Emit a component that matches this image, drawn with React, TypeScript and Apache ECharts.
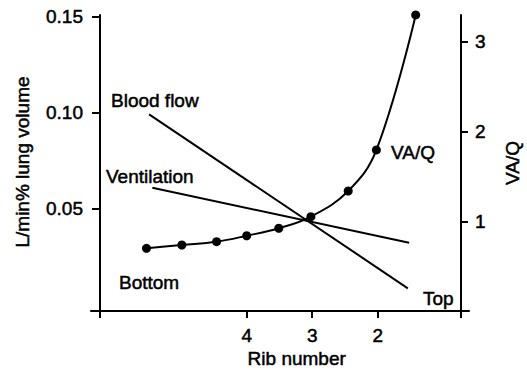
import React, { useEffect, useRef } from "react";
import * as echarts from "echarts";

// Data
const ribTicks = [4, 3, 2];
const leftTicks = [0.05, 0.1, 0.15];
const rightTicks = [1, 2, 3];

const bloodFlowRib = [5.49, 1.54];
const bloodFlowValue = [0.0993, 0.0087];

const ventilationRib = [5.44, 1.52];
const ventilationValue = [0.0611, 0.0324];

const vaqRib = [5.53, 4.99, 4.46, 4.0, 3.51, 3.02, 2.45, 2.02, 1.42];
const vaqValue = [0.704, 0.741, 0.778, 0.844, 0.927, 1.056, 1.341, 1.797, 3.297];

const FONT = "'Liberation Sans', Arial, Helvetica, sans-serif";
const FS = 19;
const BORDER = 0.5;

export default function App() {
  const ref = useRef<HTMLDivElement>(null);

  useEffect(() => {
    if (!ref.current) return;
    const chart = echarts.init(ref.current, null, { renderer: "svg" });

    const pair = (xs: number[], ys: number[]) => xs.map((x, i) => [x, ys[i]]);
    const txt = (text: string, x: number, y: number, align = "left", rotation = 0) => ({
      type: "text",
      x,
      y,
      rotation,
      style: {
        text,
        fill: "#000",
        stroke: "#000",
        lineWidth: BORDER,
        font: `${FS}px ${FONT}`,
        textAlign: align,
        textVerticalAlign: "middle",
      },
    });
    const labelStyle = {
      color: "#000",
      fontSize: FS,
      fontFamily: FONT,
      textBorderColor: "#000",
      textBorderWidth: BORDER,
    };

    chart.setOption({
      animation: false,
      backgroundColor: "#fff",
      grid: { left: 91, right: 58, top: 15, bottom: 67, containLabel: false },
      xAxis: {
        type: "value",
        min: 0.606,
        max: 6.377,
        inverse: true,
        axisLine: { onZero: false, lineStyle: { color: "#000", width: 2 } },
        axisTick: {
          show: true,
          length: 7,
          customValues: [6.24, ...ribTicks, 0.728],
          lineStyle: { color: "#000", width: 2 },
        },
        axisLabel: { customValues: ribTicks, margin: 14.5, ...labelStyle },
        splitLine: { show: false },
      },
      yAxis: [
        {
          type: "value",
          position: "left",
          offset: -9,
          min: -0.003125,
          max: 0.15104,
          axisLine: { show: true, onZero: false, lineStyle: { color: "#000", width: 2 } },
          axisTick: {
            show: true,
            length: 8,
            customValues: leftTicks,
            lineStyle: { color: "#000", width: 2 },
          },
          axisLabel: {
            customValues: leftTicks,
            formatter: (v: number) => v.toFixed(2),
            margin: 17,
            ...labelStyle,
          },
          splitLine: { show: false },
        },
        {
          type: "value",
          position: "right",
          offset: -8,
          min: 0.0078,
          max: 3.2967,
          axisLine: { show: true, onZero: false, lineStyle: { color: "#000", width: 2 } },
          axisTick: {
            show: true,
            length: 7,
            customValues: rightTicks,
            lineStyle: { color: "#000", width: 2 },
          },
          axisLabel: { customValues: rightTicks, margin: 14, ...labelStyle },
          splitLine: { show: false },
        },
      ],
      series: [
        {
          name: "Blood flow",
          type: "line",
          yAxisIndex: 0,
          data: pair(bloodFlowRib, bloodFlowValue),
          symbol: "none",
          lineStyle: { color: "#000", width: 2 },
        },
        {
          name: "Ventilation",
          type: "line",
          yAxisIndex: 0,
          data: pair(ventilationRib, ventilationValue),
          symbol: "none",
          lineStyle: { color: "#000", width: 2 },
        },
        {
          name: "VA/Q",
          type: "line",
          yAxisIndex: 1,
          data: pair(vaqRib, vaqValue),
          smooth: 0.4,
          clip: false,
          symbol: "circle",
          symbolSize: 9,
          itemStyle: { color: "#000" },
          lineStyle: { color: "#000", width: 2 },
        },
      ],
      graphic: [
        txt("Blood flow", 111, 100),
        txt("Ventilation", 106, 176),
        txt("VA/Q", 391, 152.5),
        txt("Bottom", 119, 282.5),
        txt("Top", 423, 298.5),
        txt("Rib number", 296.7, 358, "center"),
        txt("L/min% lung volume", 22, 162, "center", Math.PI / 2),
        txt("VA/Q", 512, 163, "center", Math.PI / 2),
      ],
    });

    return () => chart.dispose();
  }, []);

  return (
    <div
      ref={ref}
      style={{ position: "fixed", left: 0, top: 0, width: 527, height: 378, background: "#fff" }}
    />
  );
}
